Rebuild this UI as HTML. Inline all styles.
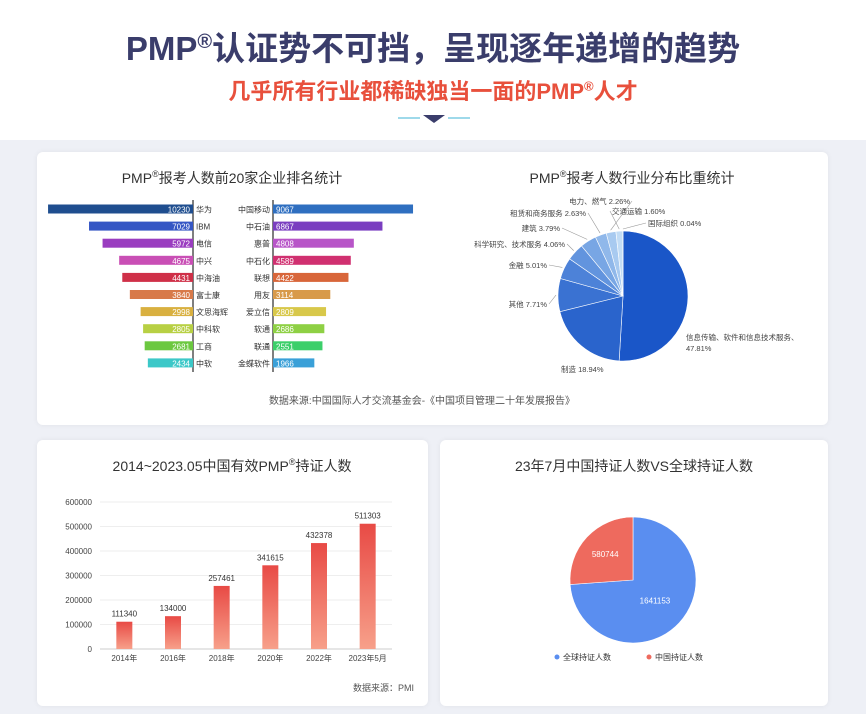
<!DOCTYPE html>
<html><head><meta charset="utf-8">
<style>
body{margin:0;width:866px;height:714px;background:#eef0f6;font-family:"Liberation Sans","Noto Sans CJK SC",sans-serif;overflow:hidden;position:relative}
.card{position:absolute;background:#fff;border-radius:6px;box-shadow:0 0 6px rgba(0,0,0,.06)}
.t{position:absolute;text-align:center;color:#333}
</style></head><body>
<div style="position:absolute;left:0;top:0;width:866px;height:140px;background:#fff"></div>
<div class="t" style="left:0;top:22px;width:866px;font-size:33px;font-weight:bold;color:#3a3d6b">PMP<sup style="font-size:20px">®</sup>认证势不可挡，呈现逐年递增的趋势</div>
<div class="t" style="left:0;top:74px;width:866px;font-size:22px;font-weight:bold;color:#e8503c">几乎所有行业都稀缺独当一面的PMP<sup style="font-size:13px">®</sup>人才</div>
<svg style="position:absolute;left:390px;top:112px" width="90" height="14"><line x1="8" y1="6" x2="30" y2="6" stroke="#9ed9ea" stroke-width="2"/><line x1="58" y1="6" x2="80" y2="6" stroke="#9ed9ea" stroke-width="2"/><polygon points="33,3 55,3 44,11" fill="#3a3d6b"/></svg>

<div class="card" style="left:37px;top:152px;width:791px;height:273px"></div>
<div class="card" style="left:37px;top:440px;width:391px;height:266px"></div>
<div class="card" style="left:440px;top:440px;width:388px;height:266px"></div>

<svg id="s" width="866" height="714" style="position:absolute;left:0;top:0" font-family="Liberation Sans, Noto Sans CJK SC, sans-serif">
<text x="232" y="183" text-anchor="middle" font-size="14" fill="#333">PMP<tspan dy="-6" font-size="9">®</tspan><tspan dy="6">报考人数前20家企业排名统计</tspan></text>
<text x="632" y="183" text-anchor="middle" font-size="14" fill="#333">PMP<tspan dy="-6" font-size="9">®</tspan><tspan dy="6">报考人数行业分布比重统计</tspan></text>
<text x="422" y="404" text-anchor="middle" font-size="10" fill="#555">数据来源:中国国际人才交流基金会-《中国项目管理二十年发展报告》</text>
<text x="232" y="471" text-anchor="middle" font-size="14" fill="#333">2014~2023.05中国有效PMP<tspan dy="-6" font-size="9">®</tspan><tspan dy="6">持证人数</tspan></text>
<text x="634" y="471" text-anchor="middle" font-size="14" fill="#333">23年7月中国持证人数VS全球持证人数</text>
<text x="414" y="691" text-anchor="end" font-size="9" fill="#555">数据来源：PMI</text>
<defs><linearGradient id="rg" x1="0" y1="0" x2="0" y2="1"><stop offset="0" stop-color="#e84a45"/><stop offset="1" stop-color="#f7a08a"/></linearGradient></defs>
<g id="g"></g>
</svg>
<script>
const leftNames=["华为","IBM","电信","中兴","中海油","富士康","文思海辉","中科软","工商","中软"];
const leftVals=[10230,7029,5972,4675,4431,3840,2998,2805,2681,2434];
const rightNames=["中国移动","中石油","惠普","中石化","联想","用友","爱立信","软通","联通","金蝶软件"];
const rightVals=[9067,6867,4808,4589,4422,3114,2809,2686,2551,1966];
const leftColors=["#1f4e8f","#3556c4","#9a3dc0","#c94fb5","#cf3048","#d87a4a","#d9b040","#b8d044","#6cc840","#3cc8c8"];
const rightColors=["#2f6fc0","#7a3ec0","#b855c8","#d03070","#d8663a","#d89a4a","#d8c84a","#8ed044","#3ccf6a","#3aa0d8"];
const indNames=["信息传输、软件和信息技术服务","制造","其他","金融","科学研究、技术服务","建筑","租赁和商务服务","电力、燃气","交通运输","国际组织"];
const indVals=[47.81,18.94,7.71,5.01,4.06,3.79,2.63,2.26,1.60,0.04];
const indColors=["#1a56c8","#2a64cc","#3a72d2","#4d82d8","#6294de","#78a6e4","#90b8ea","#a8caf0","#c2dcf5","#dceaf9"];
const years=["2014年","2016年","2018年","2020年","2022年","2023年5月"];
const holders=[111340,134000,257461,341615,432378,511303];
const yTicks=[0,100000,200000,300000,400000,500000,600000];
const vsNames=["全球持证人数","中国持证人数"];
const vsVals=[1641153,580744];
const vsColors=["#5a8ef0","#ee6a5e"];
const NS="http://www.w3.org/2000/svg",G=document.getElementById('g');
function mk(t,a,txt){const e=document.createElementNS(NS,t);for(const k in a)e.setAttribute(k,a[k]);if(txt!==undefined)e.textContent=txt;G.appendChild(e);return e;}
// butterfly (affine funnel scale)
const rowY=i=>209+i*17.1, lx=193, rx=273;
const lw=v=>14+v*0.0128, rw=v=>14+v*0.0139;
mk('line',{x1:lx,y1:200,x2:lx,y2:372,stroke:'#555','stroke-width':1.5});
mk('line',{x1:rx,y1:200,x2:rx,y2:372,stroke:'#555','stroke-width':1.5});
leftVals.forEach((v,i)=>{const w=lw(v),y=rowY(i);
 let r=mk('rect',{x:lx-w,y:y-4.5,width:w,height:9,fill:leftColors[i]});
 
 mk('text',{x:lx-3,y:y+3.5,'text-anchor':'end','font-size':8,fill:'#fff'},v);
 mk('text',{x:lx+3,y:y+3.5,'font-size':8,fill:'#333'},leftNames[i]);});
rightVals.forEach((v,i)=>{const w=rw(v),y=rowY(i);
 let r=mk('rect',{x:rx,y:y-4.5,width:w,height:9,fill:rightColors[i]});
 
 mk('text',{x:rx+3,y:y+3.5,'font-size':8,fill:'#fff'},v);
 mk('text',{x:rx-3,y:y+3.5,'text-anchor':'end','font-size':8,fill:'#333'},rightNames[i]);});
// industry pie
function pie(cx,cy,r,vals,cols,start,dir,nm){const tot=vals.reduce((a,b)=>a+b,0);let a=start;const mids=[];
 vals.forEach((v,i)=>{const d=v/tot*2*Math.PI*dir,a2=a+d;
  const p=t=>[cx+r*Math.sin(t),cy-r*Math.cos(t)];const [x1,y1]=p(a),[x2,y2]=p(a2);
  const large=Math.abs(d)>Math.PI?1:0,sw=dir>0?1:0;
  let s=mk('path',{d:`M${cx},${cy}L${x1},${y1}A${r},${r} 0 ${large} ${sw} ${x2},${y2}Z`,fill:cols[i],stroke:'#fff','stroke-width':0.6});
  
  mids.push(a+d/2);a=a2;});return mids;}
const cx=623,cy=296,R=65;
const mids=pie(cx,cy,R,indVals,indColors,0,1,'industry-slice');
const lab=[[686,340,'start'],[561,372,'start'],[547,307,'end'],[547,268,'end'],[565,247,'end'],[560,231,'end'],[586,216,'end'],[630,204,'end'],[612,214,'start'],[648,226,'start']];
mids.forEach((m,i)=>{const [x,y,an]=lab[i];const ex=cx+(R+2)*Math.sin(m),ey=cy-(R+2)*Math.cos(m);
 if(i>1)mk('line',{x1:ex,y1:ey,x2:an=='end'?x+2:x-2,y2:y-3,stroke:'#999','stroke-width':0.6});
 if(i==0){mk('text',{x,y,'font-size':7.5,fill:'#444'},indNames[0]+'、');mk('text',{x,y:y+11,'font-size':7.5,fill:'#444'},indVals[0].toFixed(2)+'%');}
 else mk('text',{x,y,'text-anchor':an,'font-size':7.5,fill:'#444'},indNames[i]+' '+indVals[i].toFixed(2)+'%');});
// holders bar chart
const x0=100,x1=392,y0=649,yTop=502,yMax=600000;
const ys=v=>y0-(v/yMax)*(y0-yTop);const bw=(x1-x0)/years.length;
yTicks.forEach(t=>{mk('line',{x1:x0,y1:ys(t),x2:x1,y2:ys(t),stroke:t?'#eee':'#ccc','stroke-width':1});
 mk('text',{x:x0-8,y:ys(t)+3,'text-anchor':'end','font-size':8,fill:'#444'},t);});
holders.forEach((v,i)=>{const c=x0+bw*(i+0.5);
 let r=mk('rect',{x:c-8,y:ys(v),width:16,height:y0-ys(v),fill:'url(#rg)'});
 
 mk('text',{x:c,y:ys(v)-5,'text-anchor':'middle','font-size':8,fill:'#333'},v);
 mk('text',{x:c,y:y0+12,'text-anchor':'middle','font-size':8,fill:'#444'},years[i]);});
// vs pie
const m2=pie(633,580,63,vsVals,vsColors,0,1,'vs-slice');
mk('text',{x:633+30*Math.sin(m2[0]),y:580-30*Math.cos(m2[0])+3,'text-anchor':'middle','font-size':8,fill:'#fff'},vsVals[0]);
mk('text',{x:633+38*Math.sin(m2[1]),y:580-38*Math.cos(m2[1])+3,'text-anchor':'middle','font-size':8,fill:'#fff'},vsVals[1]);
vsNames.forEach((n,i)=>{const x=557+i*92;mk('circle',{cx:x,cy:657,r:2.5,fill:vsColors[i]});
 mk('text',{x:x+6,y:660,'font-size':8,fill:'#333'},n);});
</script>
</body></html>
